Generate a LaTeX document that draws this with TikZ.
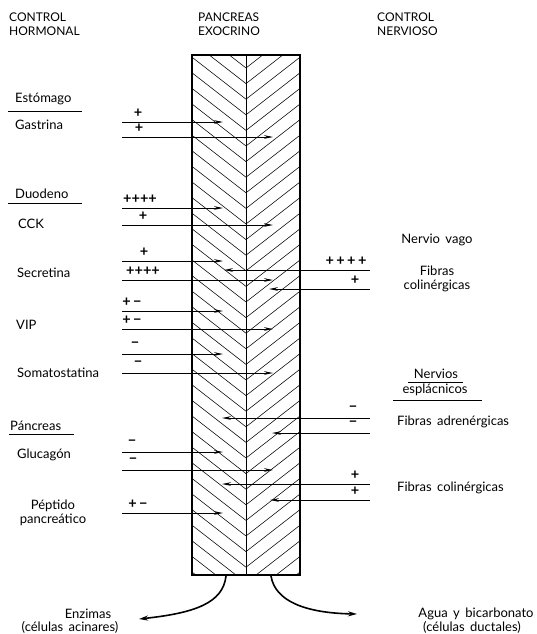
\documentclass[tikz,border=0pt]{standalone}
\usepackage{fontspec}
\setmainfont{Lato}
\usetikzlibrary{arrows.meta}

\begin{document}
\begin{tikzpicture}[x=1pt,y=-1pt]
\tikzstyle{every node}=[inner sep=0pt, font=\fontsize{13}{15}\selectfont]
\tikzstyle{head}=[anchor=west, font=\fontsize{12}{13}\selectfont]
\tikzstyle{lab}=[anchor=west]
\tikzstyle{sgn}=[font=\bfseries\fontsize{14.5}{15}\selectfont]
\tikzstyle{arr}=[line width=.9pt, -{Stealth[length=9pt,width=3.6pt]}]
\tikzstyle{flow}=[line width=1.6pt, -{Stealth[length=9pt,width=5pt]}]
\tikzstyle{hatch}=[line width=.55pt]
\useasboundingbox (0,0) rectangle (537,634);
% column titles
\draw (9,17) node (h1) [head] {CONTROL};
\draw (9,31) node (h2) [head] {HORMONAL};
\draw (198,17) node (p1) [head] {PANCREAS};
\draw (198,31) node (p2) [head] {EXOCRINO};
\draw (377,17) node (n1) [head] {CONTROL};
\draw (377,31) node (n2) [head] {NERVIOSO};
% pancreas block
\coordinate (pnw) at (192,55);
\coordinate (pse) at (300,575);
\coordinate (ptop) at (246,55);
\coordinate (pbot) at (246,575);
\begin{scope}
\clip (192,55) rectangle (246,575);
\foreach \k in {-1,...,35}
  \draw[hatch] (192,26+15.6*\k) -- (246,68+15.6*\k);
\end{scope}
\begin{scope}
\clip (246,55) rectangle (300,575);
\foreach \k in {-1,...,35}
  \draw[hatch] (300,26+15.6*\k) -- (246,68+15.6*\k);
\end{scope}
\draw[line width=.8pt] (ptop) -- (pbot);
\draw[line width=1.2pt] (pnw) rectangle (pse);
% hormonal side
\draw (15,99) node (est) [lab] {Estómago};
\draw[line width=.9pt] (8,111) -- (82,111);
\draw (15,125) node (gas) [lab] {Gastrina};
\draw (15,194) node (duo) [lab] {Duodeno};
\draw[line width=.9pt] (8,203) -- (82,203);
\draw (18,224) node (cck) [lab] {CCK};
\draw (17,273) node (sec) [lab] {Secretina};
\draw (16,325) node (vip) [lab] {VIP};
\draw (17,373) node (som) [lab] {Somatostatina};
\draw (10,426) node (pan) [lab] {Páncreas};
\draw[line width=.9pt] (9,434) -- (74,434);
\draw (17,455) node (glu) [lab] {Glucagón};
\draw (53,513) node (ppp) [align=center, font=\fontsize{13}{14}\selectfont] {Péptido\\pancreático};
\foreach \y/\e/\s/\sx [count=\i] in {122/223/+/138, 137/273/+/139,
    208/223/++++/140, 225/273/+/143, 261/223/+/144, 280/273/++++/143,
    311/223/+\,−/132, 329/273/+\,−/132, 354/223/−/135, 373/273/−/138,
    452/223/−/132, 470/273/−/133, 513/223/+\,−/138} {
  \coordinate (hs\i) at (122,\y);
  \coordinate (he\i) at (\e,\y);
  \draw (\sx,\y-9) node (hsg\i) [sgn] {\s};
  \draw[arr] (hs\i) -- (he\i);
}
% nervous side
\draw (437,240) node (vag) {Nervio\, vago};
\draw (437,279) node (col1) [align=center, font=\fontsize{13}{14}\selectfont] {Fibras\\colinérgicas};
\draw (436,374) node (nsp1) {Nervios};
\draw[line width=.7pt] (408,382) -- (463,382);
\draw (435,390) node (nsp2) {esplácnicos};
\draw[line width=.9pt] (393,400) -- (482,400);
\draw (397,422) node (adr) [lab] {Fibras\, adrenérgicas};
\draw (397,488) node (col2) [lab] {Fibras\, colinérgicas};
\foreach \y/\e/\s/\sx [count=\i] in {270/224/+\,+\,+\,+/346, 289/269/+/355,
    418/222/−/353, 433/272/−/353, 484/222/+/355, 500/270/+/355} {
  \coordinate (ns\i) at (370,\y);
  \coordinate (ne\i) at (\e,\y);
  \draw (\sx,\y-9) node (nsg\i) [sgn] {\s};
  \draw[arr] (ns\i) -- (ne\i);
}
% secretion
\coordinate (acs) at (226,576);
\coordinate (ace) at (139,619);
\coordinate (dus) at (271,576);
\coordinate (due) at (357,614);
\draw[flow] (acs) .. controls (223,603) and (195,613) .. (ace);
\draw[flow] (dus) .. controls (275,601) and (305,613) .. (due);
\draw (88,614) node (enz) {Enzimas};
\draw (70,627) node (aci) {(células\, acinares)};
\draw (476,614) node (agu) {Agua\, y\, bicarbonato};
\draw (472,627) node (duc) {(células\, ductales)};
\end{tikzpicture}
\end{document}
